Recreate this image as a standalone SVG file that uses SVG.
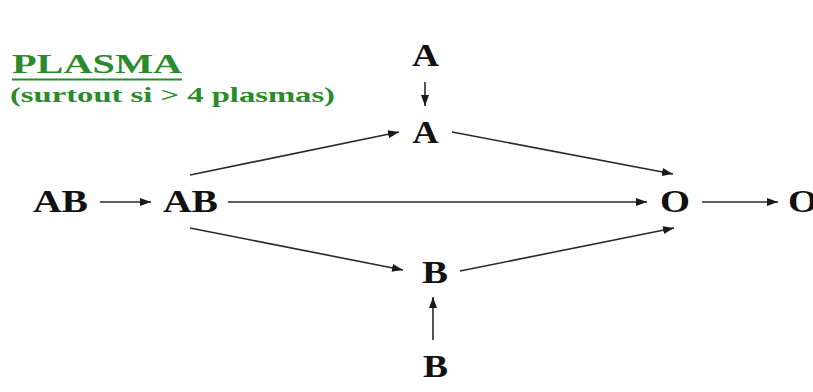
<svg xmlns="http://www.w3.org/2000/svg" width="813" height="392" viewBox="0 0 813 392">
<defs>
<marker id="ah" markerUnits="userSpaceOnUse" markerWidth="12" markerHeight="10" refX="11" refY="4" orient="auto">
<path d="M0,0 L11,4 L0,8 Z" fill="#1a1a1a"/>
</marker>
<style>
.n{font-family:"Liberation Serif","Times New Roman",serif;font-weight:bold;font-size:32px;fill:#111;text-anchor:middle}
.t{font-family:"Liberation Serif","Times New Roman",serif;font-weight:bold;fill:#2b8a2b}
.c{stroke:#2a2a2a;stroke-width:1.6;fill:none;marker-end:url(#ah)}
</style>
</defs>
<rect width="813" height="392" fill="#fff"/>
<g id="title">
<text class="t" x="12" y="73" font-size="28" textLength="170" lengthAdjust="spacingAndGlyphs">PLASMA</text>
<line x1="12" y1="79.5" x2="182" y2="79.5" stroke="#2b8a2b" stroke-width="2"/>
<text class="t" x="10" y="102" font-size="21" textLength="325" lengthAdjust="spacingAndGlyphs">(surtout si &gt; 4 plasmas)</text>
</g>
<g id="connectors">
<line class="c" x1="100" y1="202" x2="151" y2="202"/>
<line class="c" x1="228" y1="202" x2="647" y2="202"/>
<line class="c" x1="702" y1="202" x2="778" y2="202"/>
<line class="c" x1="190" y1="175" x2="399" y2="132"/>
<line class="c" x1="190" y1="228" x2="403" y2="270"/>
<line class="c" x1="452" y1="132" x2="673" y2="174"/>
<line class="c" x1="460" y1="271" x2="674" y2="228"/>
<line class="c" x1="425" y1="82" x2="425" y2="106"/>
<line class="c" x1="433" y1="340" x2="433" y2="297"/>
</g>
<g id="ab1"><text class="n" x="60.5" y="212" textLength="55" lengthAdjust="spacingAndGlyphs">AB</text></g>
<g id="ab2"><text class="n" x="190.5" y="212" textLength="55" lengthAdjust="spacingAndGlyphs">AB</text></g>
<g id="a1"><text class="n" x="425.5" y="66" textLength="27" lengthAdjust="spacingAndGlyphs">A</text></g>
<g id="a2"><text class="n" x="425.5" y="143" textLength="26" lengthAdjust="spacingAndGlyphs">A</text></g>
<g id="b2"><text class="n" x="435" y="283" textLength="26" lengthAdjust="spacingAndGlyphs">B</text></g>
<g id="b1"><text class="n" x="435.5" y="377" textLength="25" lengthAdjust="spacingAndGlyphs">B</text></g>
<g id="o1"><text class="n" x="675" y="212" textLength="30" lengthAdjust="spacingAndGlyphs">O</text></g>
<g id="o2"><text class="n" x="803" y="212" textLength="30" lengthAdjust="spacingAndGlyphs">O</text></g>
</svg>
